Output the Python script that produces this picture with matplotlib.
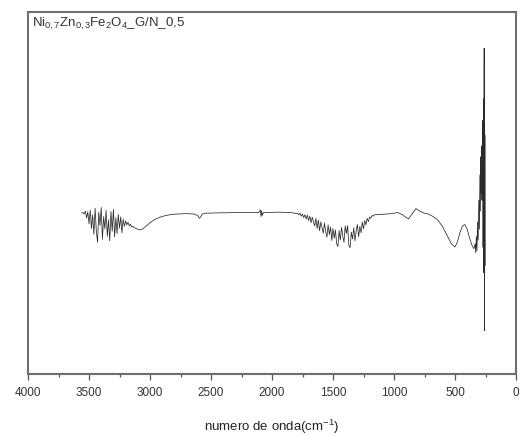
import matplotlib
matplotlib.use("Agg")
import matplotlib.pyplot as plt
from matplotlib.ticker import MultipleLocator

plt.rcParams['font.family'] = ['Liberation Sans', 'DejaVu Sans']
plt.rcParams['mathtext.fontset'] = 'custom'
plt.rcParams['mathtext.rm'] = 'Liberation Sans'
plt.rcParams['mathtext.it'] = 'Liberation Sans'

# Spectrum: (wavenumber cm^-1, transmittance-like value)
wavenumber = [
    3560, 3550, 3540, 3530, 3520, 3510, 3500, 3490, 3480, 3470, 3460, 3450, 3440, 3430,
    3420, 3410, 3400, 3390, 3380, 3370, 3360, 3350, 3340, 3330, 3320, 3310, 3300, 3290,
    3280, 3270, 3260, 3250, 3240, 3230, 3220, 3210, 3200, 3190, 3180, 3170, 3160, 3150,
    3140, 3130, 3100, 3080, 3060, 3030, 3000, 2960, 2920, 2870, 2820, 2770, 2700, 2640,
    2610, 2595, 2585, 2570, 2550, 2450, 2300, 2200, 2110, 2095, 2090, 2085, 2080, 2070,
    1950, 1850, 1790, 1780, 1770, 1760, 1750, 1740, 1730, 1720, 1710, 1700, 1690, 1680,
    1670, 1660, 1650, 1640, 1630, 1620, 1610, 1600, 1590, 1580, 1570, 1560, 1550, 1540,
    1530, 1520, 1510, 1500, 1490, 1480, 1470, 1460, 1450, 1440, 1430, 1420, 1410, 1400,
    1390, 1380, 1370, 1360, 1350, 1340, 1330, 1320, 1310, 1300, 1290, 1280, 1270, 1260,
    1250, 1240, 1230, 1220, 1210, 1200, 1190, 1180, 1170, 1160, 1100, 1020, 970, 930,
    900, 880, 850, 820, 790, 760, 720, 680, 640, 600, 560, 530, 500, 480, 460, 440, 420,
    400, 380, 360, 345, 335, 330, 325, 320, 315, 310, 305, 300, 296, 292, 288, 285, 282,
    279, 276, 273, 270, 267, 264, 261, 258, 255, 252,
]
transmittance = [
    44.5, 44.6, 44.2, 45.0, 43.1, 44.8, 41.5, 45.3, 40.2, 44.0, 38.6, 45.8, 39.5, 36.4,
    44.7, 41.0, 46.0, 37.2, 43.5, 40.1, 45.2, 38.0, 42.6, 36.8, 44.9, 39.4, 45.5, 37.9,
    43.2, 38.8, 44.1, 40.3, 43.4, 39.0, 42.8, 40.8, 42.3, 41.2, 41.9, 40.9, 41.4, 40.6,
    40.8, 40.4, 40.0, 39.8, 40.1, 40.9, 41.8, 42.7, 43.3, 43.8, 44.1, 44.2, 44.3, 44.2,
    43.8, 43.0, 43.4, 44.2, 44.4, 44.5, 44.6, 44.6, 44.6, 45.3, 43.5, 45.1, 43.8, 44.6,
    44.7, 44.6, 44.3, 44.0, 44.4, 43.6, 44.2, 43.2, 44.0, 42.8, 43.9, 42.4, 43.6, 41.8,
    43.3, 42.0, 40.9, 43.0, 40.2, 42.5, 39.6, 42.0, 40.5, 38.9, 41.7, 39.3, 37.8, 41.2,
    38.5, 40.6, 36.9, 40.2, 37.5, 39.8, 36.0, 35.2, 39.6, 37.0, 40.5, 38.1, 36.4, 40.9,
    38.8, 41.0, 35.6, 34.9, 39.2, 37.3, 40.4, 36.8, 39.5, 41.3, 37.9, 40.8, 39.0, 42.0,
    40.1, 42.4, 41.2, 43.0, 42.1, 43.4, 43.0, 43.8, 43.6, 44.0, 44.1, 44.3, 44.6, 44.0,
    43.2, 42.9, 44.3, 45.7, 45.0, 44.5, 44.2, 43.5, 42.5, 40.6, 38.0, 36.0, 35.1, 36.5,
    39.0, 40.8, 41.3, 40.0, 37.5, 35.5, 34.6, 36.0, 33.5, 38.0, 34.0, 42.0, 37.0, 48.0,
    40.0, 55.0, 45.0, 60.0, 50.0, 63.0, 48.0, 56.0, 70.0, 35.0, 76.0, 28.0, 90.0, 12.0,
    66.0, 30.0,
]

title_text = r"Ni$_{0,7}$Zn$_{0,3}$Fe$_2$O$_4$_G/N_0,5"
xlabel_text = r"numero de onda(cm$^{-1}$)"

fig = plt.figure(figsize=(5.2, 4.36), dpi=100)
ax = fig.add_axes([28/520, 1 - 374/436, 488/520, 362/436])

ax.plot(wavenumber, transmittance, color='#2a2a2a', lw=0.55)

ax.set_xlim(4000, 0)
ax.set_ylim(0, 100)
ax.xaxis.set_major_locator(MultipleLocator(500))
ax.xaxis.set_minor_locator(MultipleLocator(250))
ax.set_yticks([])
ax.tick_params(axis='x', which='major', direction='out', length=4, width=0.9,
               color='#555555', labelsize=8.5, labelcolor='#333333', pad=5)
ax.tick_params(axis='x', which='minor', direction='out', length=2.5, width=0.9,
               color='#555555')
for s in ax.spines.values():
    s.set_color('#6e6e6e')
    s.set_linewidth(1.5)

ax.text(0.008, 0.988, title_text, transform=ax.transAxes, ha='left', va='top',
        fontsize=9.5, color='#333333')
ax.set_xlabel(xlabel_text, fontsize=9.5, color='#222222', labelpad=14)

fig.savefig('out.png', dpi=100)
